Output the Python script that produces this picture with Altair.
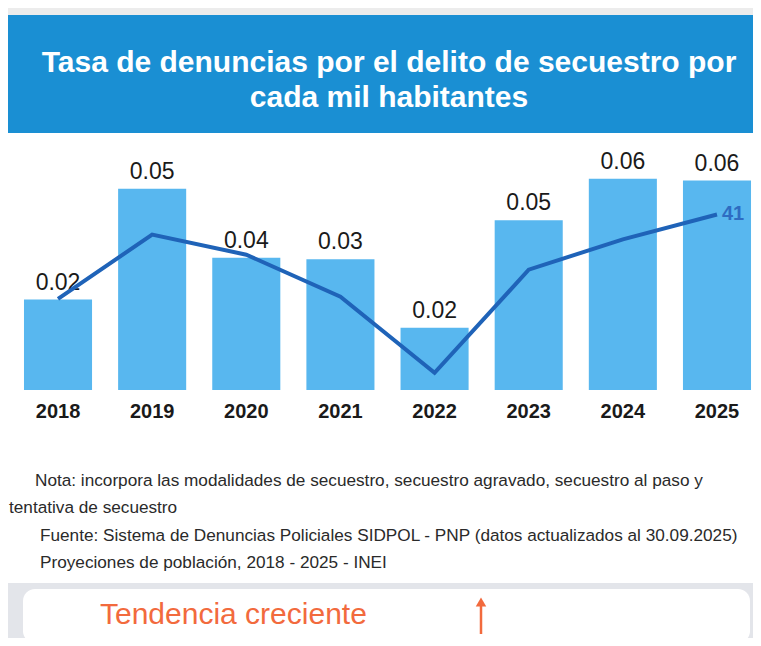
import altair as alt
import pandas as pd

# ---- data ----
years = ["2018", "2019", "2020", "2021", "2022", "2023", "2024", "2025"]
tasa = [0.0241, 0.0536, 0.0352, 0.0348, 0.0166, 0.0452, 0.0563, 0.0558]
tendencia = [21.3, 36.3, 31.6, 21.8, 4.0, 28.1, 35.2, 41.0]

title_lines = ["Tasa de denuncias por el delito de secuestro por", "cada mil habitantes"]
notes = [
    "Nota: incorpora las modalidades de secuestro, secuestro agravado, secuestro al paso y",
    "tentativa de secuestro",
    "Fuente: Sistema de Denuncias Policiales SIDPOL - PNP (datos actualizados al 30.09.2025)",
    "Proyeciones de población, 2018 - 2025 - INEI",
]
tendencia_text = "Tendencia creciente"

df = pd.DataFrame({"anio": years, "tasa": tasa, "tendencia": tendencia})
df_last = df.tail(1)

FONT = "Liberation Sans"
BAR = "#58B7EF"
LINE = "#1F63B8"
BANNER = "#1A8FD3"
ORANGE = "#F26A3D"

W = 731
H = 244

x_enc = alt.X("anio:N", sort=years,
              scale=alt.Scale(paddingInner=0.277, paddingOuter=0.021),
              axis=alt.Axis(title=None, labelAngle=0, domain=False, ticks=False,
                            labelFontSize=20, labelFont=FONT, labelColor="#1a1a1a",
                            labelFontWeight="bold", labelPadding=11, grid=False))

y_bar = alt.Y("tasa:Q", scale=alt.Scale(domain=[0, 0.065]), axis=None)

bars = alt.Chart(df).mark_bar(color=BAR).encode(x=x_enc, y=y_bar)
bar_labels = alt.Chart(df).mark_text(dy=-17, baseline="middle", fontSize=23, font=FONT,
                                     color="#1a1a1a").encode(
    x=alt.X("anio:N", sort=years), y=y_bar, text=alt.Text("tasa:Q", format=".2f"))

bar_layer = alt.layer(bars, bar_labels)

y_line = alt.Y("tendencia:Q", scale=alt.Scale(domain=[0, 57]), axis=None)
line = alt.Chart(df).mark_line(color=LINE, strokeWidth=4).encode(
    x=alt.X("anio:N", sort=years), y=y_line)
line_label = alt.Chart(df_last).mark_text(align="left", dx=5, baseline="middle", fontSize=20,
                                          font=FONT, fontWeight="bold", color="#2E6CC2").encode(
    x=alt.X("anio:N", sort=years), y=y_line, text=alt.Text("tendencia:Q", format=".0f"))
line_layer = alt.layer(line, line_label)

# ---- decorations (pixel positions relative to plot area) ----
top_strip = alt.Chart(df_last).mark_rect(color="#ececec").encode(
    x=alt.value(-14), x2=alt.value(W), y=alt.value(-138), y2=alt.value(-131))
banner = alt.Chart(df_last).mark_rect(color=BANNER).encode(
    x=alt.value(-14), x2=alt.value(W), y=alt.value(-131), y2=alt.value(-13))
title_1 = alt.Chart(pd.DataFrame({"t": [title_lines[0]]})).mark_text(
    fontSize=30, font=FONT, fontWeight="bold", color="white",
    align="center", baseline="middle").encode(x=alt.value(367), y=alt.value(-83), text="t:N")
title_2 = alt.Chart(pd.DataFrame({"t": [title_lines[1]]})).mark_text(
    fontSize=30, font=FONT, fontWeight="bold", color="white",
    align="center", baseline="middle").encode(x=alt.value(367), y=alt.value(-48), text="t:N")

notes_df = pd.DataFrame({"t": notes, "xp": [13, -13, 18, 18], "yp": [335, 362, 390, 417]})
notes_t = alt.Chart(notes_df).mark_text(fontSize=17.2, font=FONT, color="#2a2a2a",
                                        align="left", baseline="middle").encode(
    x=alt.X("xp:Q", scale=None), y=alt.Y("yp:Q", scale=None), text="t:N")

bottom_bg = alt.Chart(df_last).mark_rect(color="#e3e5ea").encode(
    x=alt.value(-14), x2=alt.value(W), y=alt.value(437), y2=alt.value(500))
bottom_box = alt.Chart(df_last).mark_rect(color="white", cornerRadius=12).encode(
    x=alt.value(1), x2=alt.value(728), y=alt.value(443), y2=alt.value(497))
tend_t = alt.Chart(pd.DataFrame({"t": [tendencia_text]})).mark_text(
    fontSize=30, font=FONT, color=ORANGE, align="left", baseline="middle").encode(
    x=alt.value(78), y=alt.value(469), text="t:N")
arrow_line = alt.Chart(df_last).mark_rule(color=ORANGE, strokeWidth=2.5).encode(
    x=alt.value(459), y=alt.value(456), y2=alt.value(488))
arrow_head = alt.Chart(df_last).mark_point(shape="triangle-up", filled=True, color=ORANGE,
                                           size=110, opacity=1).encode(
    x=alt.value(459), y=alt.value(456))

deco = alt.layer(top_strip, banner, title_1, title_2, notes_t, bottom_bg, bottom_box, tend_t,
                 arrow_line, arrow_head)

chart = alt.layer(deco, bar_layer, line_layer).resolve_scale(y="independent").properties(
    width=W, height=H,
    background="white",
    autosize=alt.AutoSizeParams(type="none"),
    padding={"left": 14, "top": 138, "right": 0, "bottom": 248},
).configure_view(strokeWidth=0, stroke="transparent")

chart.save("out.html", embed_options={"renderer": "svg", "actions": False})
